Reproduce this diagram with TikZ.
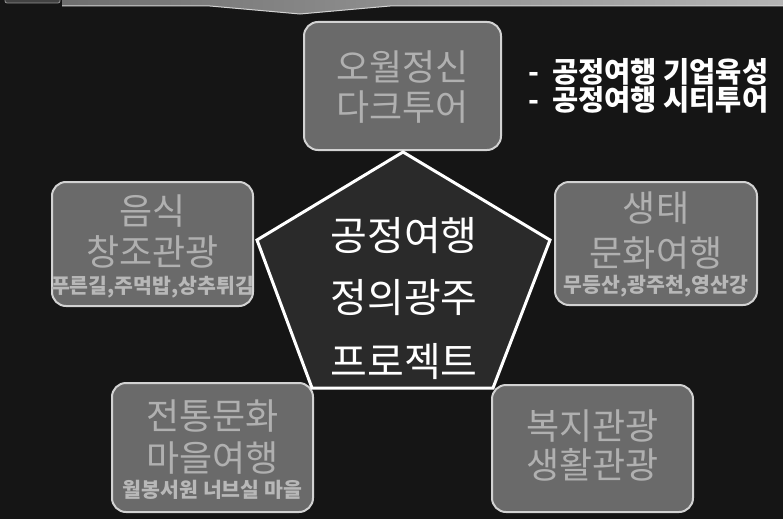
\documentclass[tikz,border=0pt]{standalone}
\usepackage{fontspec}
\newfontfamily\kr{Noto Sans CJK KR}
\definecolor{bg}{HTML}{151515}
\definecolor{boxfill}{HTML}{6A6A6A}
\definecolor{boxline}{HTML}{D2D2D2}
\definecolor{boxtext}{HTML}{B0B0B0}
\definecolor{pentfill}{HTML}{2A2A2A}
\definecolor{stripL}{HTML}{6E6E6E}
\definecolor{stripR}{HTML}{B4B4B4}
\begin{document}
\begin{tikzpicture}[x=1pt,y=-1pt,
  box/.style={draw=boxline, line width=2pt, fill=boxfill, rounded corners=14pt, inner sep=0pt},
  big/.style={text=boxtext, font=\kr\fontsize{36}{36}\selectfont, inner sep=0pt, anchor=center},
  small/.style={text=boxtext!90!white, font=\kr\bfseries\fontsize{20.5}{20.5}\selectfont, inner sep=0pt, anchor=center},
  centre/.style={text=white, font=\kr\fontsize{40}{40}\selectfont, inner sep=0pt, anchor=center},
  note/.style={text=white, font=\kr\bfseries\fontsize{28.5}{28.5}\selectfont, inner sep=0pt, anchor=west}]
\fill[bg] (0,0) rectangle (783,519);
\useasboundingbox (0,0) rectangle (783,519);
% top strip
\shade[left color=stripL, right color=stripR] (62,0) -- (783,0) -- (783,6) -- (390,6) -- (300,14) -- (210,6) -- (62,6) -- cycle;
\draw[boxline, line width=1pt] (62,6) -- (210,6) -- (300,14) -- (390,6) -- (783,6);
\draw[boxline!70!black, fill=stripL!60!black, line width=0.8pt, rounded corners=2pt] (5,-4) rectangle (60,3);
% boxes
\node[box, minimum width=197pt, minimum height=128pt] (top) at (402.5,86) {};
\node[box, minimum width=201pt, minimum height=124pt] (left) at (152.5,244) {};
\node[box, minimum width=202pt, minimum height=123pt] (right) at (656,243.5) {};
\node[box, minimum width=201pt, minimum height=129pt] (bl) at (212.5,447.5) {};
\node[box, minimum width=201pt, minimum height=127pt] (br) at (592.5,448.5) {};
% pentagon
\coordinate (p1) at (403,152);
\coordinate (p2) at (550,240);
\coordinate (p3) at (493,388);
\coordinate (p4) at (312,388);
\coordinate (p5) at (257,240);
\draw[white, line width=3pt, fill=pentfill, line join=miter] (p1) -- (p2) -- (p3) -- (p4) -- (p5) -- cycle;
\node[centre] (c1) at (404,236) {공정여행};
\node[centre] (c2) at (404,298) {정의광주};
\node[centre] (c3) at (404,362) {프로젝트};
% box texts
\node[big] (t1) at (402.5,67) {오월정신};
\node[big] (t2) at (402.5,107) {다크투어};
\node[big] (l1) at (152.5,211) {음식};
\node[big] (l2) at (152.5,252) {창조관광};
\node[small] (l3) at (152.5,287) {푸른길,주먹밥,상추튀김};
\node[big] (r1) at (656,208) {생태};
\node[big] (r2) at (656,253) {문화여행};
\node[small] (r3) at (656,286) {무등산,광주천,영산강};
\node[big] (b1) at (212.5,416) {전통문화};
\node[big] (b2) at (212.5,458) {마을여행};
\node[small] (b3) at (212.5,490) {월봉서원 너브실 마을};
\node[big] (d1) at (592.5,426) {복지관광};
\node[big] (d2) at (592.5,465) {생활관광};
% notes
\node[note] (n1) at (528,72) {-\hspace{13pt}공정여행 기업육성};
\node[note] (n2) at (528,100) {-\hspace{13pt}공정여행 시티투어};
\end{tikzpicture}
\end{document}
